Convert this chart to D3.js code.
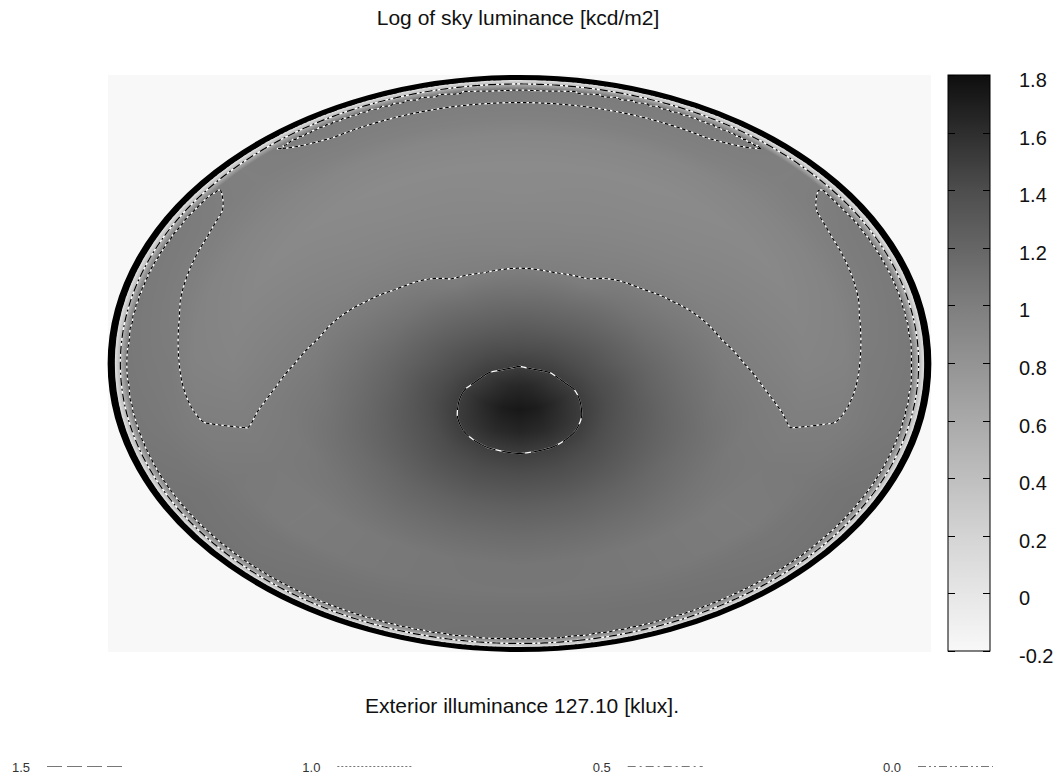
<!DOCTYPE html>
<html>
<head>
<meta charset="utf-8">
<script src="https://cdn.jsdelivr.net/npm/d3@7"></script>
<style>
  html, body { margin: 0; padding: 0; background: #ffffff; }
  svg { display: block; font-family: "Liberation Sans", Arial, Helvetica, sans-serif; }
</style>
</head>
<body>
<svg id="chart" width="1057" height="779"></svg>
<script>
// ---- Sky luminance map data (log10 of luminance, kcd/m2) ----
// Azimuth of each row, degrees from the solar meridian (0 = sun side / bottom, 180 = opposite / top).
// The sky is symmetric about the solar meridian, so one half is tabulated.
const azimuths = [0, 15, 30, 45, 60, 75, 90, 105, 120, 135, 150, 165, 180];
// Radial position of each column as a fraction of the horizon circle (0 = zenith, 1 = horizon).
const ringRadii = [0, 0.08, 0.16, 0.24, 0.32, 0.40, 0.50, 0.60, 0.70, 0.80, 0.85, 0.90, 0.96, 1.00];
const logLuminance = [
  [1.48, 1.64, 1.74, 1.65, 1.49, 1.38, 1.25, 1.15, 1.07, 1.06, 1.09, 1.10, 1.11, -0.20],
  [1.48, 1.63, 1.71, 1.62, 1.47, 1.37, 1.24, 1.14, 1.06, 1.06, 1.08, 1.10, 1.10, -0.20],
  [1.48, 1.60, 1.64, 1.55, 1.43, 1.33, 1.21, 1.12, 1.04, 1.04, 1.07, 1.09, 1.10, -0.20],
  [1.48, 1.56, 1.56, 1.47, 1.36, 1.27, 1.16, 1.08, 1.02, 1.02, 1.06, 1.07, 1.09, -0.20],
  [1.48, 1.52, 1.48, 1.40, 1.30, 1.21, 1.12, 1.04, 1.03, 1.04, 1.06, 1.08, 1.09, -0.20],
  [1.48, 1.48, 1.42, 1.34, 1.23, 1.15, 1.06, 1.02, 0.99, 1.00, 1.02, 1.045, 1.06, -0.20],
  [1.48, 1.45, 1.37, 1.27, 1.18, 1.10, 1.02, 0.98, 0.94, 0.96, 1.02, 1.03, 1.05, -0.20],
  [1.48, 1.42, 1.33, 1.23, 1.13, 1.06, 0.99, 0.95, 0.92, 0.95, 0.995, 1.02, 1.04, -0.20],
  [1.48, 1.40, 1.29, 1.19, 1.09, 1.02, 0.96, 0.93, 0.90, 0.94, 0.98, 1.01, 1.03, -0.20],
  [1.48, 1.38, 1.26, 1.16, 1.06, 0.99, 0.94, 0.91, 0.89, 0.93, 0.96, 0.985, 0.985, -0.20],
  [1.48, 1.36, 1.24, 1.13, 1.01, 0.97, 0.93, 0.90, 0.88, 0.92, 0.97, 0.995, 1.02, -0.20],
  [1.48, 1.35, 1.23, 1.12, 1.005, 0.96, 0.92, 0.90, 0.88, 0.92, 0.97, 0.995, 1.02, -0.20],
  [1.48, 1.35, 1.23, 1.11, 1.01, 0.95, 0.92, 0.89, 0.88, 0.92, 0.97, 0.995, 1.02, -0.20]
];
// Value used outside the sky dome
const backgroundValue = -0.2;

// Contour levels and their legend
const contourLevels = [1.5, 1.0, 0.5, 0.0];
const contourLabels = ["1.5", "1.0", "0.5", "0.0"];

// Colour bar range and ticks
const colorDomain = [-0.2, 1.8];
const colorTicks = [1.8, 1.6, 1.4, 1.2, 1, 0.8, 0.6, 0.4, 0.2, 0, -0.2];

const titleText = "Log of sky luminance [kcd/m2]";
const footerText = "Exterior illuminance 127.10 [klux].";

// ---- Layout ----
const width = 1057, height = 779;
const plot = { x0: 108, y0: 75, x1: 931, y1: 652 };
const dome = {
  cx: (plot.x0 + plot.x1) / 2,
  cy: (plot.y0 + plot.y1) / 2,
  rx: (plot.x1 - plot.x0) / 2 - 3.2,
  ry: (plot.y1 - plot.y0) / 2 - 2.4
};
const bar = { x0: 948, x1: 990, y0: 75, y1: 651 };

// Grey colour scale
const grey = d3.scaleLinear()
  .domain([-0.2, 0.2, 0.6, 1.0, 1.4, 1.8])
  .range([248, 212, 169, 126, 77, 14])
  .clamp(true);
const colorOf = v => { const g = Math.round(grey(v)); return `rgb(${g},${g},${g})`; };

// Fractional table indices
const ringIndex = d3.scaleLinear().domain(ringRadii).range(d3.range(ringRadii.length)).clamp(true);
const azIndex = d3.scaleLinear().domain(d3.extent(azimuths)).range([0, azimuths.length - 1]).clamp(true);

function fieldAt(px, py) {
  const u = (px - dome.cx) / dome.rx;
  const w = (py - dome.cy) / dome.ry;
  const r = Math.hypot(u, w);
  if (r > 1) return backgroundValue;
  const az = Math.atan2(Math.abs(u), w) * 180 / Math.PI;
  const ri = ringIndex(r), ai = azIndex(az);
  const r0 = Math.min(Math.floor(ri), ringRadii.length - 2), a0 = Math.min(Math.floor(ai), azimuths.length - 2);
  const fr = ri - r0, fa = ai - a0;
  const v00 = logLuminance[a0][r0], v01 = logLuminance[a0][r0 + 1];
  const v10 = logLuminance[a0 + 1][r0], v11 = logLuminance[a0 + 1][r0 + 1];
  return (v00 * (1 - fr) + v01 * fr) * (1 - fa) + (v10 * (1 - fr) + v11 * fr) * fa;
}

const svg = d3.select("#chart");

// ---- Raster of the luminance field ----
const W = plot.x1 - plot.x0, H = plot.y1 - plot.y0;
const canvas = document.createElement("canvas");
canvas.width = W; canvas.height = H;
const ctx = canvas.getContext("2d");
const img = ctx.createImageData(W, H);
for (let j = 0; j < H; j++) {
  for (let i = 0; i < W; i++) {
    const g = Math.round(grey(fieldAt(plot.x0 + i + 0.5, plot.y0 + j + 0.5)));
    const k = (j * W + i) * 4;
    img.data[k] = g; img.data[k + 1] = g; img.data[k + 2] = g; img.data[k + 3] = 255;
  }
}
ctx.putImageData(img, 0, 0);
svg.append("image")
  .attr("x", plot.x0).attr("y", plot.y0)
  .attr("width", W).attr("height", H)
  .attr("href", canvas.toDataURL());

// ---- Contour lines ----
const step = 3;
const nx = Math.ceil(W / step), ny = Math.ceil(H / step);
const grid = new Float64Array(nx * ny);
for (let j = 0; j < ny; j++)
  for (let i = 0; i < nx; i++)
    grid[j * nx + i] = fieldAt(plot.x0 + (i + 0.5) * step, plot.y0 + (j + 0.5) * step);

const contours = d3.contours().size([nx, ny]).thresholds(contourLevels)(grid);
const toPixels = d3.geoPath(d3.geoIdentity().scale(step).translate([plot.x0, plot.y0]));

const mapDash = { "1.5": "24,6", "1": "3.5,2.5", "0.5": "8,3,2,3", "0": "8,3,2,3,2,3" };
const gC = svg.append("g").attr("fill", "none");
contours.forEach(c => {
  gC.append("path").attr("d", toPixels(c)).attr("stroke", "#ffffff").attr("stroke-width", 1.3);
  gC.append("path").attr("d", toPixels(c)).attr("stroke", "#000000").attr("stroke-width", 1.2)
    .attr("stroke-dasharray", mapDash[String(c.value)]);
});

// Horizon circle: drawn as a unit circle stretched onto the dome, so the rim is wider at the sides
const sx = dome.rx / dome.ry;
svg.append("g")
  .attr("transform", `translate(${dome.cx},${dome.cy}) scale(${sx},1)`)
  .append("circle")
  .attr("r", dome.ry)
  .attr("fill", "none").attr("stroke", "#000").attr("stroke-width", 5);

// ---- Colour bar ----
const yBar = d3.scaleLinear().domain(colorDomain).range([bar.y1, bar.y0]);
const defs = svg.append("defs");
const grad = defs.append("linearGradient").attr("id", "barGrad")
  .attr("x1", 0).attr("y1", 1).attr("x2", 0).attr("y2", 0);
grey.domain().forEach(v => {
  grad.append("stop")
    .attr("offset", (v - colorDomain[0]) / (colorDomain[1] - colorDomain[0]))
    .attr("stop-color", colorOf(v));
});
svg.append("rect")
  .attr("x", bar.x0).attr("y", bar.y0)
  .attr("width", bar.x1 - bar.x0).attr("height", bar.y1 - bar.y0)
  .attr("fill", "url(#barGrad)").attr("stroke", "#000").attr("stroke-width", 1);
const gT = svg.append("g");
colorTicks.forEach(v => {
  const y = Math.round(yBar(v)) + 0.5;
  gT.append("line").attr("x1", bar.x0).attr("x2", bar.x0 + 7).attr("y1", y).attr("y2", y).attr("stroke", "#000");
  gT.append("line").attr("x1", bar.x1 - 7).attr("x2", bar.x1).attr("y1", y).attr("y2", y).attr("stroke", "#000");
  gT.append("text").attr("x", 1019).attr("y", yBar(v) + 5)
    .attr("dominant-baseline", "central")
    .attr("font-size", 20).attr("fill", "#111")
    .text(String(v));
});

// ---- Titles ----
svg.append("text").attr("x", 518).attr("y", 25).attr("text-anchor", "middle")
  .attr("font-size", 21).attr("fill", "#111").text(titleText);
svg.append("text").attr("x", 522).attr("y", 713).attr("text-anchor", "middle")
  .attr("font-size", 21).attr("fill", "#111").text(footerText);

// ---- Contour legend ----
const legendDash = { "1.5": "15,5", "1.0": "2,2", "0.5": "8,4,2,4", "0.0": "8,3,2,3,2,3" };
const legX = d3.scalePoint().domain(contourLabels).range([12, 883]);
const gL = svg.append("g");
contourLabels.forEach(lbl => {
  const x = legX(lbl);
  gL.append("text").attr("x", x).attr("y", 772).attr("font-size", 13).attr("fill", "#333").text(lbl);
  gL.append("line").attr("x1", x + 35).attr("x2", x + 110).attr("y1", 766.5).attr("y2", 766.5)
    .attr("stroke", "#777").attr("stroke-width", 1.2).attr("stroke-dasharray", legendDash[lbl]);
});
</script>
</body>
</html>
